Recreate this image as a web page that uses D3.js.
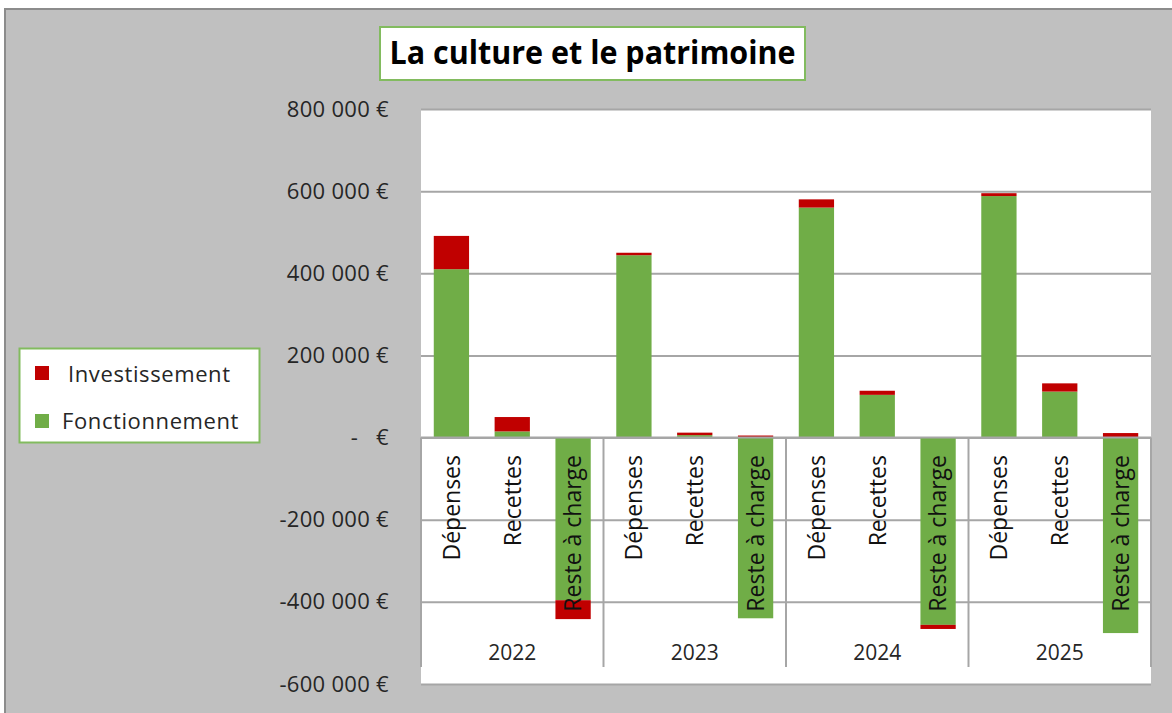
<!DOCTYPE html>
<html lang="fr">
<head>
<meta charset="UTF-8" />
<script src="https://d3js.org/d3.v7.min.js"></script>
<style>
  body { margin: 0; background: #fff; }
  svg { display: block; font-family: "Open Sans", "DejaVu Sans", sans-serif; }
</style>
</head>
<body>
<svg width="1172" height="713"></svg>
<script>
// données
const years = ["2022", "2023", "2024", "2025"];
const categories = ["Dépenses", "Recettes", "Reste à charge"];
const fonctionnement = [
  [410000, 15000, -396000],
  [444000, 6000, -440000],
  [560000, 104000, -456000],
  [588000, 112000, -476000]
];
const investissement = [
  [81000, 35000, -46000],
  [6000, 6000, 5000],
  [20000, 10000, -10000],
  [7000, 20000, 11000]
];
const yTicks = [-600000, -400000, -200000, 0, 200000, 400000, 600000, 800000];
const seriesNames = ["Fonctionnement", "Investissement"];
const colors = { Fonctionnement: "#70ad47", Investissement: "#c00000" };

const svg = d3.select("svg");

// fond du graphique
svg.append("rect").attr("x", 5).attr("y", 9).attr("width", 1180).attr("height", 720)
  .attr("fill", "#c0c0c0").attr("stroke", "#8c8c8c").attr("stroke-width", 2);

const plot = { left: 421, right: 1151, top: 109, bottom: 684 };

svg.append("rect")
  .attr("x", plot.left).attr("y", plot.top)
  .attr("width", plot.right - plot.left).attr("height", plot.bottom - plot.top)
  .attr("fill", "#fff");

const y = d3.scaleLinear().domain([-600000, 800000]).range([plot.bottom, plot.top]);
const xYear = d3.scaleBand().domain(years).range([plot.left, plot.right]);
const xCat = d3.scaleBand().domain(categories).range([0, xYear.bandwidth()])
  .paddingInner(0.42).paddingOuter(0.21);

// grille
svg.append("g")
  .attr("transform", `translate(${plot.left},0)`)
  .call(d3.axisLeft(y).tickValues(yTicks).tickSize(-(plot.right - plot.left)).tickFormat(""))
  .call(g => g.select(".domain").remove())
  .call(g => g.selectAll("line").attr("stroke", "#a6a6a6").attr("stroke-width", 2));

// étiquettes de l'axe vertical
const fr = d3.formatLocale({ decimal: ",", thousands: " ", grouping: [3], currency: ["", " €"], minus: "-" });
const fmt = fr.format(",.0f");
svg.append("g")
  .attr("transform", `translate(${plot.left},0)`)
  .call(d3.axisLeft(y).tickValues(yTicks).tickSize(0).tickPadding(32)
    .tickFormat(d => d === 0 ? "-   €" : fmt(d) + " €"))
  .call(g => g.select(".domain").remove())
  .call(g => g.selectAll("text")
    .attr("font-size", 22).attr("fill", "#262626")
    .attr("letter-spacing", 0.3)
    .attr("font-family", "'Open Sans', sans-serif")
    .style("white-space", "pre"));

// barres empilées
const rows = [];
years.forEach((yr, i) => categories.forEach((c, j) => {
  rows.push({ year: yr, cat: c, Fonctionnement: fonctionnement[i][j], Investissement: investissement[i][j] });
}));
const stacked = d3.stack().keys(seriesNames).offset(d3.stackOffsetDiverging)(rows);

svg.append("g").selectAll("g")
  .data(stacked).join("g")
  .attr("fill", s => colors[s.key])
  .selectAll("rect")
  .data(s => s).join("rect")
  .attr("x", d => xYear(d.data.year) + xCat(d.data.cat))
  .attr("width", xCat.bandwidth())
  .attr("y", d => y(Math.max(d[0], d[1])))
  .attr("height", d => Math.abs(y(d[0]) - y(d[1])));

// axe des catégories
const axisG = svg.append("g").attr("stroke", "#a6a6a6").attr("stroke-width", 2);
axisG.append("line")
  .attr("x1", plot.left).attr("x2", plot.right)
  .attr("y1", y(0)).attr("y2", y(0));
axisG.selectAll(".sep")
  .data(years.map(yr => xYear(yr)).concat([plot.right]))
  .join("line")
  .attr("x1", d => d).attr("x2", d => d)
  .attr("y1", y(0)).attr("y2", 667);

svg.append("g").selectAll("text")
  .data(rows).join("text")
  .attr("transform", d => `translate(${xYear(d.year) + xCat(d.cat) + xCat.bandwidth() / 2},455) rotate(-90)`)
  .attr("text-anchor", "end")
  .attr("dy", "0.36em")
  .attr("font-size", 23)
  .attr("fill", "#111")
  .text(d => d.cat);

svg.append("g").selectAll("text")
  .data(years).join("text")
  .attr("x", d => xYear(d) + xYear.bandwidth() / 2)
  .attr("y", 660)
  .attr("text-anchor", "middle")
  .attr("font-size", 21)
  .attr("fill", "#262626")
  .text(d => d);

// titre
svg.append("rect").attr("x", 380).attr("y", 27).attr("width", 425).attr("height", 53)
  .attr("fill", "#fff").attr("stroke", "#82bb5f").attr("stroke-width", 2);
svg.append("text")
  .attr("x", 592.5).attr("y", 64)
  .attr("text-anchor", "middle")
  .attr("font-size", 32).attr("font-weight", "bold")
  .attr("textLength", 406).attr("lengthAdjust", "spacingAndGlyphs")
  .attr("fill", "#000")
  .text("La culture et le patrimoine");

// légende
const legend = svg.append("g");
legend.append("rect").attr("x", 19.5).attr("y", 348.5).attr("width", 240).attr("height", 94)
  .attr("fill", "#fff").attr("stroke", "#82bb5f").attr("stroke-width", 2);
const legendItems = [
  { name: "Investissement", sy: 366, ty: 382, tx: 68 },
  { name: "Fonctionnement", sy: 414, ty: 429, tx: 62 }
];
legend.selectAll("rect.sw")
  .data(legendItems).join("rect")
  .attr("class", "sw")
  .attr("x", 35).attr("y", d => d.sy).attr("width", 14).attr("height", 14)
  .attr("fill", d => colors[d.name]);
legend.selectAll("text")
  .data(legendItems).join("text")
  .attr("x", d => d.tx).attr("y", d => d.ty)
  .attr("font-size", 22).attr("fill", "#262626")
  .attr("letter-spacing", 0.6)
  .text(d => d.name);
</script>
</body>
</html>
